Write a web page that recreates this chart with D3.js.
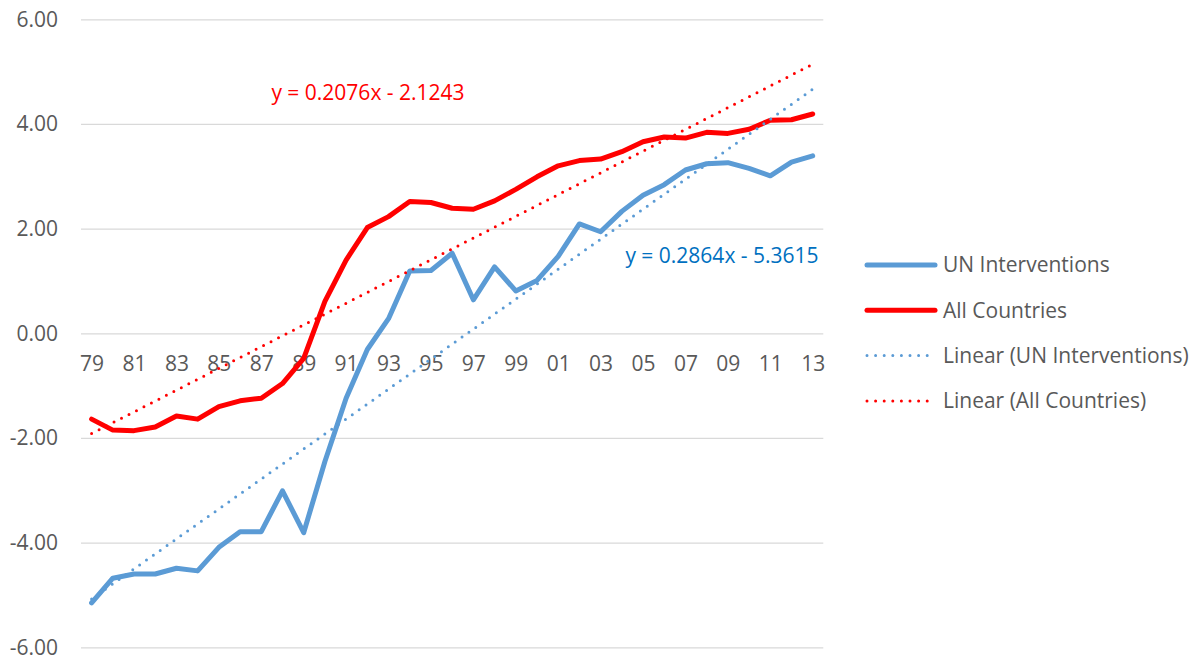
<!DOCTYPE html>
<html>
<head>
<meta charset="utf-8">
<script src="https://cdn.jsdelivr.net/npm/d3@7"></script>
<style>
  body { margin: 0; background: #fff; }
  text { font-family: "Open Sans", "Noto Sans", sans-serif; }
</style>
</head>
<body>
<div id="vis"></div>
<script>
const YEARS = ["79","80","81","82","83","84","85","86","87","88","89","90","91","92","93","94","95","96","97","98","99","00","01","02","03","04","05","06","07","08","09","10","11","12","13"];

const UN_INTERVENTIONS = [-5.15,-4.68,-4.60,-4.60,-4.49,-4.54,-4.09,-3.79,-3.79,-3.01,-3.81,-2.45,-1.24,-0.31,0.28,1.19,1.20,1.53,0.64,1.27,0.81,1.01,1.47,2.09,1.94,2.33,2.64,2.84,3.12,3.24,3.26,3.15,3.01,3.27,3.39];

const ALL_COUNTRIES = [-1.64,-1.85,-1.86,-1.79,-1.58,-1.64,-1.40,-1.29,-1.24,-0.96,-0.48,0.61,1.40,2.02,2.23,2.52,2.50,2.39,2.37,2.53,2.75,2.99,3.20,3.30,3.33,3.47,3.66,3.75,3.73,3.84,3.82,3.90,4.07,4.08,4.19];

const SERIES_NAMES = ["UN Interventions", "All Countries", "Linear (UN Interventions)", "Linear (All Countries)"];
const TREND_SLOPES = [0.2864, 0.2076];
const TREND_INTERCEPTS = [-5.3615, -2.1243];
const TREND_LABELS = ["y = 0.2864x - 5.3615", "y = 0.2076x - 2.1243"];
const Y_TICKS = [-6, -4, -2, 0, 2, 4, 6];

const WIDTH = 1196;
const HEIGHT = 657;
const LEFT = 81;
const RIGHT = 823.3;
const TOP = 19.3;
const BOTTOM = 647.3;
const FONT = "21px";

const BLUE = "#5B9BD5";
const RED = "#FF0000";
const TEXT_GREY = "#595959";
const GRID = "#D9D9D9";

const x = d3.scalePoint(YEARS, [LEFT, RIGHT]).padding(0.5);
const y = d3.scaleLinear([-6, 6], [BOTTOM, TOP]);

const svg = d3.select("#vis")
  .append("svg")
    .attr("width", WIDTH)
    .attr("height", HEIGHT);

// y axis + gridlines
const yAxis = d3.axisLeft(y)
  .tickValues(Y_TICKS)
  .tickFormat(d => d.toFixed(2))
  .tickSize(-(RIGHT - LEFT))
  .tickPadding(23);

svg.append("g")
    .attr("transform", `translate(${LEFT},0)`)
    .call(yAxis)
    .call(g => g.select(".domain").remove())
    .call(g => g.selectAll(".tick line").attr("stroke", GRID).attr("stroke-width", 1.3))
    .call(g => g.selectAll(".tick text")
      .attr("fill", TEXT_GREY)
      .style("font-size", FONT));

// x axis labels along zero line
const xAxis = d3.axisBottom(x)
  .tickValues(YEARS.filter((d, i) => i % 2 === 0))
  .tickSize(0);

svg.append("g")
    .attr("transform", `translate(0,${y(0)})`)
    .call(xAxis)
    .call(g => g.select(".domain").remove())
    .call(g => g.selectAll(".tick text")
      .attr("y", 30)
      .attr("dy", "0.35em")
      .attr("fill", TEXT_GREY)
      .style("font-size", FONT));

// trendlines
const trendIdx = [1, YEARS.length];
function trendData(k) {
  return trendIdx.map(n => [YEARS[n - 1], TREND_SLOPES[k] * n + TREND_INTERCEPTS[k]]);
}

const line = d3.line()
  .x(d => x(d[0]))
  .y(d => y(d[1]));

const COLORS = [BLUE, RED];

[UN_INTERVENTIONS, ALL_COUNTRIES].forEach((vals, k) => {
  svg.append("path")
    .datum(YEARS.map((yr, i) => [yr, vals[i]]))
    .attr("d", line)
    .attr("fill", "none")
    .attr("stroke", COLORS[k])
    .attr("stroke-width", 5)
    .attr("stroke-linejoin", "round")
    .attr("stroke-linecap", "round");
});

[0, 1].forEach(k => {
  svg.append("path")
    .datum(trendData(k))
    .attr("d", line)
    .attr("fill", "none")
    .attr("stroke", COLORS[k])
    .attr("stroke-width", 3)
    .attr("stroke-dasharray", "0 8.4")
    .attr("stroke-linecap", "round");
});

// equation labels
svg.append("text")
  .attr("x", 722).attr("y", 256)
  .attr("dy", "0.35em")
  .attr("text-anchor", "middle")
  .attr("fill", "#0070C0")
  .style("font-size", FONT)
  .text(TREND_LABELS[0]);

svg.append("text")
  .attr("x", 368).attr("y", 93)
  .attr("dy", "0.35em")
  .attr("text-anchor", "middle")
  .attr("fill", RED)
  .style("font-size", FONT)
  .text(TREND_LABELS[1]);

// legend
const legend = svg.append("g").attr("transform", "translate(865,265)");
const legendStyles = [
  { color: BLUE, width: 5, dash: null },
  { color: RED, width: 5, dash: null },
  { color: BLUE, width: 3, dash: "0 8.6" },
  { color: RED, width: 3, dash: "0 8.6" }
];

SERIES_NAMES.forEach((name, i) => {
  const row = legend.append("g").attr("transform", `translate(0,${i * 45.3})`);
  const s = legendStyles[i];
  row.append("line")
    .attr("x1", 2).attr("x2", s.dash ? 62.5 : 70)
    .attr("y1", 0).attr("y2", 0)
    .attr("stroke", s.color)
    .attr("stroke-width", s.width)
    .attr("stroke-linecap", "round")
    .attr("stroke-dasharray", s.dash);
  row.append("text")
    .attr("x", 78).attr("y", 0)
    .attr("dy", "0.35em")
    .attr("fill", TEXT_GREY)
    .style("font-size", FONT)
    .text(name);
});
</script>
</body>
</html>
